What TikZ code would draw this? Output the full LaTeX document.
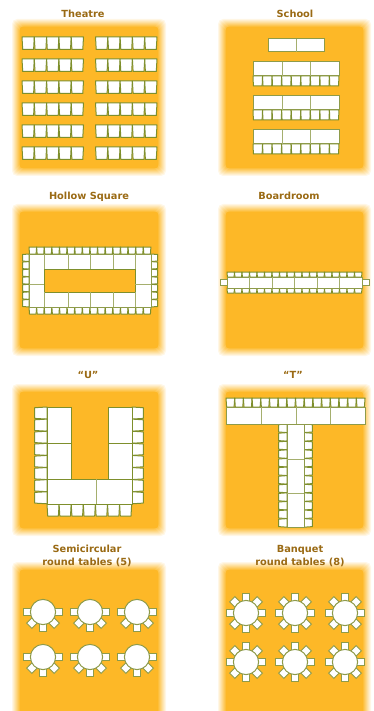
\documentclass[tikz,border=0pt]{standalone}
\usepackage{fontspec}
\setmainfont{DejaVu Sans}
\definecolor{panelcol}{HTML}{FDB827}
\definecolor{seatline}{HTML}{7E8F2C}
\definecolor{tableline}{HTML}{8E9B4A}
\definecolor{titlecol}{HTML}{9A6A14}
\tikzset{
  seat/.style={draw=seatline, fill=white, line width=1pt, line join=round},
  lightseat/.style={draw=tableline, fill=white, line width=0.9pt},
  tablebox/.style={draw=tableline, fill=white, line width=1pt},
  divider/.style={draw=tableline!80, line width=1pt},
  title/.style={text=titlecol, font=\fontsize{9.8}{13}\selectfont\bfseries, align=center},
}
% x y n w h, narrower at the far end
\newcommand{\seatsdown}[6]{
  \foreach \i in {1,...,#3} {
    \draw[seat] ({#1+(\i-1)*#4},#2) -- ({#1+\i*#4},#2) -- ({#1+\i*#4-#6},{#2+#5})
      -- ({#1+(\i-1)*#4+#6},{#2+#5}) -- cycle;
  }
}
% x y n w h, insets of the left and right side
\newcommand{\seatsside}[7]{
  \foreach \i in {1,...,#3} {
    \draw[seat] ({#1+#6},{#2+(\i-1)*#5+#6}) -- ({#1+#4-#7},{#2+(\i-1)*#5+#7})
      -- ({#1+#4-#7},{#2+\i*#5-#7}) -- ({#1+#6},{#2+\i*#5-#6}) -- cycle;
  }
}
% solid part of the panel, with a soft edge
\newcommand{\panel}[4]{
  \foreach \g [evaluate=\g as \op using 1/(\g+1)] in {8,7,...,1} {
    \fill[panelcol, opacity=\op, rounded corners=5pt]
      ({#1-\g},{#2-\g}) rectangle ({#3+\g},{#4+\g});
  }
  \fill[panelcol, rounded corners=2pt] (#1,#2) rectangle (#3,#4);
}
% x y and the list of seat angles
\newcommand{\roundtable}[3]{
  \foreach \a in {#3} {
    \draw[lightseat, shift={(#1,#2)}, rotate=\a] (11,-3.7) rectangle (19.5,3.7);
  }
  \draw[tablebox] (#1,#2) circle (12.6);
}
\begin{document}
\begin{tikzpicture}[x=1pt, y=-1pt]
  \useasboundingbox (0,0) rectangle (373,711);

  \panel{20}{27}{158}{168}
  \panel{226}{27}{363}{168}
  \panel{20}{212}{158}{348}
  \panel{226}{212}{363}{348}
  \panel{20}{392}{158}{528}
  \panel{226}{392}{363}{528}
  \panel{20}{570}{158}{716}
  \panel{226}{570}{363}{716}

  \node[title] (titleTheatre) at (83,14) {Theatre};
  \node[title] (titleSchool) at (295,14) {School};
  \node[title] (titleHollow) at (89,196.5) {Hollow Square};
  \node[title] (titleBoard) at (289,196) {Boardroom};
  \node[title] (titleU) at (88,375) {“U”};
  \node[title] (titleT) at (293,375) {“T”};
  \node[title] (titleSemi) at (87,556) {Semicircular\\round tables (5)};
  \node[title] (titleBanquet) at (300,556.5) {Banquet\\round tables (8)};

  % Theatre
  \foreach \y in {37,59,81,103,125,147} {
    \seatsdown{22}{\y}{5}{12.3}{12.5}{0.7}
    \seatsdown{95.5}{\y}{5}{12.3}{12.5}{0.7}
  }

  % School
  \draw[tablebox] (268,39) rectangle (324,52);
  \draw[divider] (296,39) -- (296,52);
  \foreach \y in {62,96,130} {
    \seatsdown{253}{\y+14}{9}{9.55}{10}{0.4}
    \draw[tablebox] (253,\y) rectangle (339,\y+14);
    \draw[divider] (282,\y) -- (282,\y+14) (310,\y) -- (310,\y+14);
  }

  % Hollow square
  \seatsdown{29}{247}{16}{7.62}{7}{0.5}
  \seatsdown{29}{307}{16}{7.62}{7}{0.5}
  \seatsside{22}{254}{7}{7}{7.57}{0.5}{0}
  \seatsside{151}{254}{7}{7}{7.57}{0}{0.5}
  \draw[tablebox] (29,254) rectangle (151,307);
  \fill[panelcol, draw=seatline, line width=0.8pt] (44,269) rectangle (135,292);
  \draw[divider] (44,254) -- (44,269) (68,254) -- (68,269) (90,254) -- (90,269) (113,254) -- (113,269) (135,254) -- (135,269);
  \draw[divider] (44,292) -- (44,307) (68,292) -- (68,307) (90,292) -- (90,307) (113,292) -- (113,307) (135,292) -- (135,307);
  \draw[divider] (29,284) -- (44,284) (135,284) -- (151,284);

  % Boardroom
  \seatsdown{227}{272}{18}{7.5}{5}{0.4}
  \seatsdown{227}{288}{18}{7.5}{5}{0.4}
  \draw[lightseat] (220,279) rectangle (227,285);
  \draw[lightseat] (362,279) rectangle (369,285);
  \draw[tablebox] (227,277) rectangle (362,288);
  \foreach \x in {249.5,272,294.5,317,339.5} {
    \draw[divider] (\x,277) -- (\x,288);
  }

  % U
  \seatsside{34}{407}{8}{13}{12.1}{0.7}{0}
  \seatsside{132}{407}{8}{12}{12.1}{0}{0.7}
  \seatsdown{47}{504}{7}{12.1}{12}{0.7}
  \draw[tablebox, draw=seatline] (47,407) -- (71,407) -- (71,479) -- (108,479) -- (108,407) -- (132,407) -- (132,504) -- (47,504) -- cycle;
  \draw[divider, draw=seatline] (47,443) -- (71,443) (108,443) -- (132,443) (47,479) -- (71,479) (108,479) -- (132,479);
  \draw[divider] (96,479) -- (96,504);

  % T
  \seatsdown{226}{398}{16}{8.69}{9}{0.6}
  \seatsside{278}{424}{12}{9}{8.6}{0.6}{0}
  \seatsside{304}{424}{12}{9}{8.6}{0}{0.6}
  \draw[tablebox] (226,407) rectangle (365,424);
  \draw[divider] (261,407) -- (261,424) (296,407) -- (296,424) (330,407) -- (330,424);
  \draw[tablebox] (287,424) rectangle (304,527);
  \draw[divider] (287,459) -- (304,459) (287,493) -- (304,493);

  % Round tables
  \foreach \y in {612,657} {
    \foreach \x in {43,90,137} {
      \roundtable{\x}{\y}{0,-45,-90,-135,180}
    }
  }
  \foreach \y in {613,662} {
    \foreach \x in {246,295,345} {
      \roundtable{\x}{\y}{0,45,...,315}
    }
  }
\end{tikzpicture}
\end{document}
